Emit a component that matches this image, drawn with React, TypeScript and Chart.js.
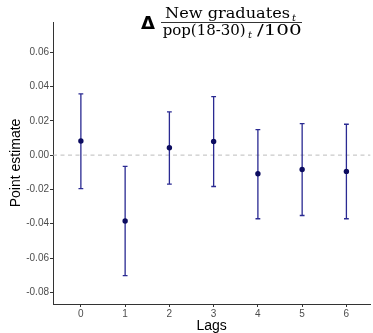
import { useEffect, useRef } from "react";
import { Chart, registerables } from "chart.js";

Chart.register(...registerables);

const lags = [0, 1, 2, 3, 4, 5, 6];
const estimates = [0.0082, -0.0384, 0.0043, 0.0079, -0.0109, -0.0084, -0.0095];
const lower = [-0.0195, -0.0703, -0.0169, -0.0183, -0.0371, -0.0352, -0.0371];
const upper = [0.0357, -0.0066, 0.0252, 0.0341, 0.0149, 0.0184, 0.018];
const yTicks = [-0.08, -0.06, -0.04, -0.02, 0, 0.02, 0.04, 0.06];
const xTicks = [0, 1, 2, 3, 4, 5, 6];

const titleNum = "New graduates";
const titleDen = "pop(18-30)";
const titleDenTail = "/100";
const titleSub = "t";

function fitText(ctx: CanvasRenderingContext2D, text: string, x: number, y: number, width: number, font: string) {
  ctx.font = font;
  const w = ctx.measureText(text).width;
  ctx.save();
  ctx.translate(x, y);
  ctx.scale(width / w, 1);
  ctx.fillText(text, 0, 0);
  ctx.restore();
}

export default function App() {
  const ref = useRef<HTMLCanvasElement>(null);

  useEffect(() => {
    const canvas = ref.current;
    if (!canvas) return;

    const refPlugin = {
      id: "refAndBars",
      beforeDatasetsDraw(chart: any) {
        const { ctx, chartArea, scales } = chart;
        const xs = scales.x;
        const ys = scales.y;
        ctx.save();
        const y0 = ys.getPixelForValue(0);
        ctx.strokeStyle = "#bdbdbd";
        ctx.lineWidth = 1;
        ctx.setLineDash([4, 3.5]);
        ctx.beginPath();
        ctx.moveTo(chartArea.left, y0);
        ctx.lineTo(chartArea.right, y0);
        ctx.stroke();
        ctx.setLineDash([]);
        ctx.strokeStyle = "#2a2a92";
        ctx.lineWidth = 1.3;
        lags.forEach((lag, i) => {
          const px = xs.getPixelForValue(lag);
          const pl = ys.getPixelForValue(lower[i]);
          const pu = ys.getPixelForValue(upper[i]);
          ctx.beginPath();
          ctx.moveTo(px, pl);
          ctx.lineTo(px, pu);
          ctx.moveTo(px - 2.4, pl);
          ctx.lineTo(px + 2.4, pl);
          ctx.moveTo(px - 2.4, pu);
          ctx.lineTo(px + 2.4, pu);
          ctx.stroke();
        });
        ctx.restore();
      },
      afterDraw(chart: any) {
        const ctx: CanvasRenderingContext2D = chart.ctx;
        ctx.save();
        ctx.fillStyle = "#000";
        ctx.strokeStyle = "#000";
        ctx.textBaseline = "alphabetic";
        ctx.textAlign = "left";
        fitText(ctx, "\u0394", 141, 28.5, 14, "bold 18px 'DejaVu Sans'");
        fitText(ctx, titleNum, 165, 17.5, 125, "14px 'DejaVu Serif'");
        ctx.font = "italic 10px 'DejaVu Serif'";
        ctx.fillText(titleSub, 292, 20.5);
        ctx.lineWidth = 0.8;
        ctx.beginPath();
        ctx.moveTo(161, 22.5);
        ctx.lineTo(302, 22.5);
        ctx.stroke();
        fitText(ctx, titleDen, 162.7, 35, 83, "14px 'DejaVu Serif'");
        ctx.font = "italic 10px 'DejaVu Serif'";
        ctx.fillText(titleSub, 248, 38);
        fitText(ctx, titleDenTail, 257, 35, 44.7, "14px 'DejaVu Serif'");
        ctx.restore();
      },
    };

    const tickFont = { family: "'Liberation Sans', Arial, sans-serif", size: 10 };
    const titleFont = { family: "'Liberation Sans', Arial, sans-serif", size: 14 };

    const chart = new Chart(canvas, {
      type: "scatter",
      data: {
        datasets: [
          {
            data: lags.map((x, i) => ({ x, y: estimates[i] })),
            pointRadius: 2.7,
            pointHoverRadius: 2.7,
            backgroundColor: "#0c0c60",
            borderColor: "#0c0c60",
            borderWidth: 0,
          },
        ],
      },
      options: {
        animation: false,
        responsive: false,
        events: [],
        layout: { padding: { top: 22, left: 0, right: 0, bottom: 0 } },
        plugins: { legend: { display: false }, tooltip: { enabled: false }, title: { display: false } },
        scales: {
          x: {
            type: "linear",
            min: -0.63,
            max: 6.54,
            afterBuildTicks: (s: any) => {
              s.ticks = xTicks.map((v) => ({ value: v }));
            },
            afterFit: (s: any) => {
              s.height = 29;
            },
            ticks: {
              font: tickFont,
              color: "#4d4d4d",
              padding: 1.5,
              autoSkip: false,
              maxRotation: 0,
              callback: (v: any) => String(v),
            },
            grid: { display: true, drawOnChartArea: false, drawTicks: true, tickLength: 3, tickColor: "#333", lineWidth: 1 },
            border: { display: true, color: "#333", width: 1 },
            title: { display: true, text: "Lags", font: titleFont, color: "#000", padding: { top: 0, bottom: -2 } },
          },
          y: {
            type: "linear",
            min: -0.0868,
            max: 0.0776,
            afterBuildTicks: (s: any) => {
              s.ticks = yTicks.map((v) => ({ value: v }));
            },
            afterFit: (s: any) => {
              s.width = 53;
            },
            ticks: {
              font: tickFont,
              color: "#4d4d4d",
              padding: 1,
              autoSkip: false,
              callback: (v: any) => Number(v).toFixed(2),
            },
            grid: { display: true, drawOnChartArea: false, drawTicks: true, tickLength: 3, tickColor: "#333", lineWidth: 1 },
            border: { display: true, color: "#333", width: 1 },
            title: { display: true, text: "Point estimate", font: titleFont, color: "#000", padding: { top: 7.5, bottom: 0 } },
          },
        },
      },
      plugins: [refPlugin],
    });

    return () => chart.destroy();
  }, []);

  return (
    <div style={{ position: "fixed", left: 0, top: 0, width: 373, height: 333, background: "#fff" }}>
      <canvas ref={ref} width={373} height={333} style={{ display: "block", width: 373, height: 333 }} />
    </div>
  );
}
